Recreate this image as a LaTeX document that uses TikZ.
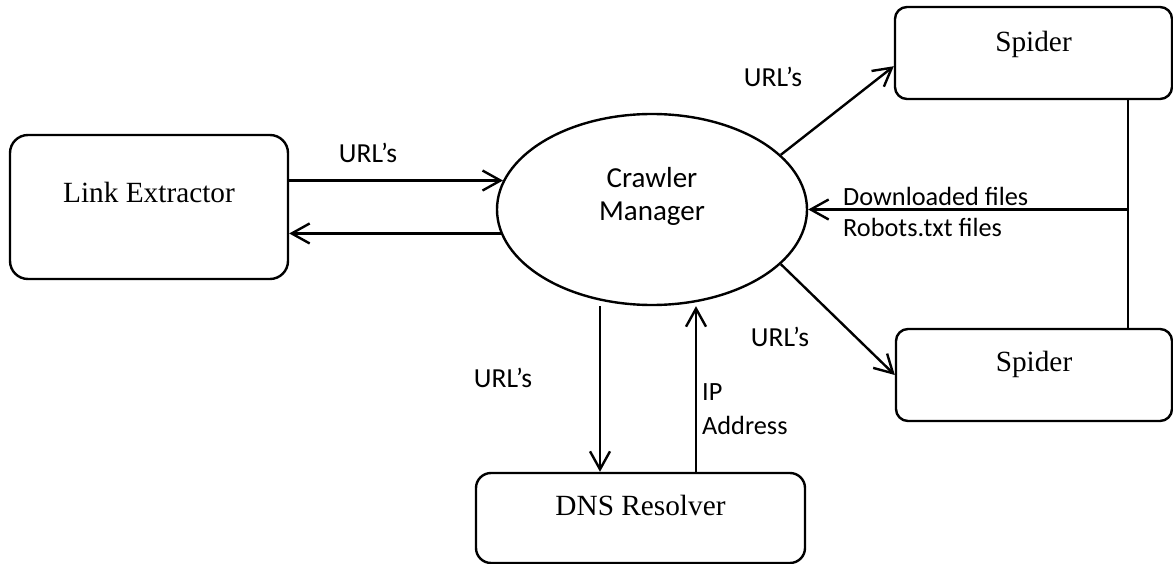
\documentclass[tikz,border=0pt]{standalone}
\usepackage{fontspec}
\setmainfont{Liberation Serif}
\newfontfamily\calibri{Carlito}
\usetikzlibrary{arrows.meta,calc,shapes.geometric}
\begin{document}
\begin{tikzpicture}[x=1pt,y=-1pt,
  box/.style={draw, line width=2.4pt, rounded corners=#1, inner sep=0pt,
    font=\fontsize{29.3pt}{35pt}\selectfont, text height=20pt, text depth=28pt},
  box/.default=15pt,
  oval/.style={draw, ellipse, line width=2.4pt, inner sep=0pt,
    minimum width=310pt, minimum height=191pt},
  lbl/.style={inner sep=0pt, font=\calibri\fontsize{26.3pt}{33pt}\selectfont},
  url/.style={lbl, font=\calibri\fontsize{27.5pt}{33pt}\selectfont},
  conn/.style={line width=2.4pt},
  arr/.style={line width=2.4pt, -{Straight Barb[length=18pt,width=20pt]}}]
\useasboundingbox (0,0) rectangle (1173,564);
% nodes
\node[box=18pt, minimum width=278pt, minimum height=144pt] (le) at (149,207) {Link Extractor};
\node[oval] (cm) at (652,209.5) {};
\node[lbl, align=center, font=\calibri\fontsize{29pt}{33pt}\selectfont] (cmt) at (652,196) {Crawler\\Manager};
\node[box=12pt, minimum width=277pt, minimum height=92pt, text depth=22pt] (sp1) at (1033.5,53) {Spider};
\node[box=12pt, minimum width=276pt, minimum height=92pt] (sp2) at (1034,375) {Spider};
\node[box=15pt, minimum width=329pt, minimum height=90pt, text depth=25pt] (dns) at (640.5,518) {DNS Resolver};
% labels
\node[url] (u1) at (368,153) {URL’s};
\node[url] (u2) at (773,77) {URL’s};
\node[url] (u3) at (780,337) {URL’s};
\node[url] (u4) at (503,378) {URL’s};
\node[lbl, anchor=west, align=left, font=\calibri\fontsize{26.3pt}{31pt}\selectfont] (files) at (843,212) {Downloaded files\\Robots.txt files};
\node[lbl, anchor=west, align=left, font=\calibri\fontsize{26.3pt}{33.5pt}\selectfont] (ip) at (702,409) {IP\\Address};
% connectors
\draw[arr] (le.east |- cm.169.5) -- (cm.169.5);
\draw[arr] (cm.189.7) -- (le.east |- cm.189.7);
\draw[arr] (cm.23.7) -- ($(sp1.south west)!0.36!(sp1.north west)$);
\draw[arr] (cm.-23.4) -- (sp2.west);
\coordinate (t) at ($(sp1.south east)+(-45,0)$);
\draw[conn] (t) -- (t |- sp2.north);
\draw[arr] (t |- cm.east) -- (cm.east);
\coordinate (d1) at ($(dns.north)+(-40.5,0)$);
\coordinate (d2) at ($(dns.north)+(55.5,0)$);
\draw[arr] (cm.south -| d1) -- (d1);
\draw[arr] (d2) -- (cm.south -| d2);
\end{tikzpicture}
\end{document}
